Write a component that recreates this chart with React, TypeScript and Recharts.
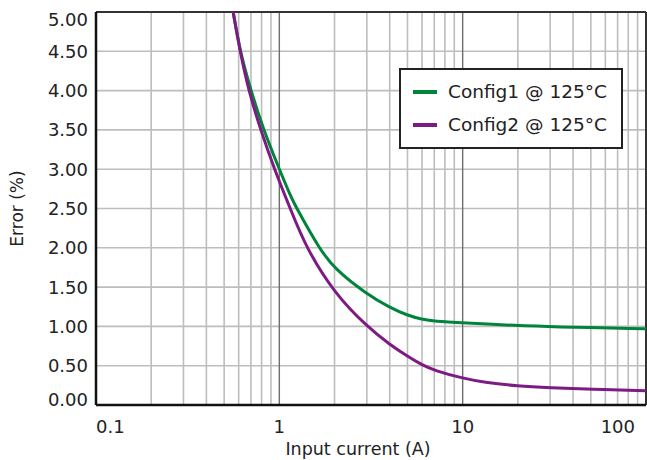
import React from "react";
import { LineChart, Line, XAxis, YAxis, ReferenceLine } from "recharts";

// readings (input current in A, error in %)
const config1Current = [0.56, 0.61, 0.7, 0.82, 1.0, 1.155, 1.245, 1.64, 2, 3, 4, 5, 6, 7, 10, 20, 30, 100];
const config1Error = [5.0, 4.5, 4.0, 3.5, 3.0, 2.65, 2.5, 2.0, 1.73, 1.41, 1.24, 1.14, 1.09, 1.065, 1.045, 1.01, 0.995, 0.97];

const config2Current = [0.56, 0.61, 0.68, 0.79, 0.94, 1.155, 1.4, 2, 3, 4, 5, 6, 7, 10, 13, 20, 30, 50, 100];
const config2Error = [5.0, 4.5, 4.0, 3.5, 3.0, 2.48, 2.0, 1.42, 1.0, 0.77, 0.62, 0.51, 0.44, 0.34, 0.29, 0.24, 0.22, 0.2, 0.18];

const xTicks = [0.1, 1, 10, 100];
const yTicks = [0, 0.5, 1, 1.5, 2, 2.5, 3, 3.5, 4, 4.5, 5];
const minorX = [0.2, 0.3, 0.4, 0.5, 0.6, 0.7, 0.8, 0.9, 2, 3, 4, 5, 6, 7, 8, 9, 20, 30, 40, 50, 60, 70, 80, 90];
const majorX = [1, 10];
const gridY = [0.5, 1, 1.5, 2, 2.5, 3, 3.5, 4, 4.5];

const seriesNames = ["Config1 @ 125°C", "Config2 @ 125°C"];
const GREEN = "#00843c";
const PURPLE = "#7d1a83";
const FONT = "DejaVu Sans";

const data1 = config1Current.map((c, i) => ({ x: c, y: config1Error[i] }));
const data2 = config2Current.map((c, i) => ({ x: c, y: config2Error[i] }));

function XTick(props: any) {
  const { x, y, payload } = props;
  const v = payload.value;
  const anchor = v === 0.1 ? "start" : v === 100 ? "end" : "middle";
  return (
    <text x={x} y={y + 26} textAnchor={anchor} fontFamily={FONT} fontSize={18} fill="#222">
      {String(v)}
    </text>
  );
}

function YTick(props: any) {
  const { y, payload } = props;
  const v = payload.value;
  const shift = v === 5 ? 7 : v === 0 ? -6 : 0;
  return (
    <text x={88} y={y + 6.5 + shift} textAnchor="end" fontFamily={FONT} fontSize={18} fill="#222">
      {v.toFixed(2)}
    </text>
  );
}

function LegendBox() {
  const colors = [GREEN, PURPLE];
  return (
    <div
      style={{
        position: "absolute",
        left: 399,
        top: 68,
        width: 220,
        height: 77,
        border: "2px solid #222",
        background: "#fff",
      }}
    >
      {seriesNames.map((n, i) => (
        <div
          key={n}
          style={{ display: "flex", alignItems: "center", height: 33, marginTop: i === 0 ? 5 : 0 }}
        >
          <div style={{ width: 24, height: 4, background: colors[i], marginLeft: 12, marginRight: 11 }} />
          <span style={{ fontFamily: FONT, fontSize: 18.5, color: "#222", whiteSpace: "nowrap" }}>{n}</span>
        </div>
      ))}
    </div>
  );
}

export default function App() {
  return (
    <div style={{ position: "absolute", left: 0, top: 0, width: 647, height: 460, background: "#fff" }}>
      <LineChart width={647} height={460} margin={{ top: 12, right: 1, left: 0, bottom: 0 }}>
        {minorX.map((v) => (
          <ReferenceLine key={"mx" + v} x={v} stroke="#bdbdbd" strokeWidth={1.6} />
        ))}
        {gridY.map((v) => (
          <ReferenceLine key={"gy" + v} y={v} stroke="#bdbdbd" strokeWidth={1.6} />
        ))}
        {majorX.map((v) => (
          <ReferenceLine key={"Mx" + v} x={v} stroke="#6e6e6e" strokeWidth={1.4} />
        ))}
        <ReferenceLine y={5} stroke="#333" strokeWidth={2} />
        <ReferenceLine x={100} stroke="#333" strokeWidth={2} />
        <XAxis
          dataKey="x"
          type="number"
          scale="log"
          domain={[0.1, 100]}
          ticks={xTicks}
          allowDataOverflow
          height={55}
          tickLine={false}
          tickSize={0}
          tick={<XTick />}
          axisLine={{ stroke: "#111", strokeWidth: 2.5 }}
          label={({ viewBox }: any) => (
            <text
              x={viewBox.x + viewBox.width / 2 - 13}
              y={455}
              textAnchor="middle"
              fontFamily={FONT}
              fontSize={17.5}
              fill="#222"
            >
              Input current (A)
            </text>
          )}
        />
        <YAxis
          dataKey="y"
          type="number"
          domain={[0, 5]}
          ticks={yTicks}
          width={96}
          tickLine={false}
          tickSize={0}
          tick={<YTick />}
          axisLine={{ stroke: "#111", strokeWidth: 2.5 }}
          label={({ viewBox }: any) => {
            const cy = viewBox.y + viewBox.height / 2;
            return (
              <text
                x={17}
                y={cy}
                transform={`rotate(-90, 17, ${cy})`}
                textAnchor="middle"
                dominantBaseline="central"
                fontFamily={FONT}
                fontSize={17}
                fill="#222"
              >
                Error (%)
              </text>
            );
          }}
        />
        <Line
          data={data1}
          dataKey="y"
          name={seriesNames[0]}
          type="basis"
          stroke={GREEN}
          strokeWidth={3}
          dot={false}
          isAnimationActive={false}
        />
        <Line
          data={data2}
          dataKey="y"
          name={seriesNames[1]}
          type="basis"
          stroke={PURPLE}
          strokeWidth={3}
          dot={false}
          isAnimationActive={false}
        />
      </LineChart>
      <LegendBox />
    </div>
  );
}
